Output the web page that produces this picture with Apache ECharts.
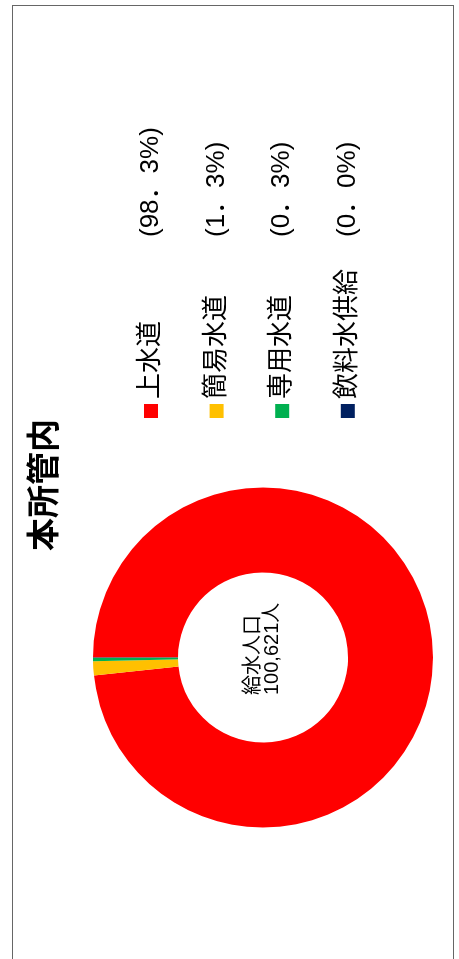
<!DOCTYPE html>
<html>
<head>
<meta charset="utf-8">
<script src="https://cdn.jsdelivr.net/npm/echarts@6/dist/echarts.min.js"></script>
<style>
html, body { margin: 0; padding: 0; overflow: hidden; background: #fff; width: 459px; height: 959px; }
#wrap {
  position: absolute; left: 12px; top: 965px;
  width: 960px; height: 442px; box-sizing: border-box;
  border: 1px solid #666;
  transform-origin: 0 0; transform: rotate(-90deg);
  background: #fff;
}
#chart { width: 958px; height: 440px; }
</style>
</head>
<body>
<div id="wrap"><div id="chart"></div></div>
<script>
const titleText = '本所管内';
const centerCaption = '給水人口';
const categories = ['上水道', '簡易水道', '専用水道', '飲料水供給'];
const values = [98923, 1345, 320, 33];
const colors = ['#FF0000', '#FFC000', '#00B050', '#002060'];

const total = values.reduce((a, b) => a + b, 0);
const pct = {};
categories.forEach((c, i) => {
  pct[c] = '(' + (values[i] / total * 100).toFixed(1).replace('.', '．') + '%)';
});

const cjk = '"Liberation Sans", "Noto Sans CJK JP", sans-serif';
const chart = echarts.init(document.getElementById('chart'), null, { renderer: 'canvas' });
chart.setOption({
  animation: false,
  color: colors,
  title: [
    {
      text: titleText, left: 'center', top: 15, padding: 0,
      textStyle: { fontFamily: cjk, fontSize: 33, fontWeight: 'bold', color: '#000', lineHeight: 35 }
    },
    {
      text: centerCaption + '\n' + total.toLocaleString('en-US') + '人',
      left: 269, top: 231, padding: 0,
      textStyle: { fontFamily: cjk, fontSize: 20, fontWeight: 'normal', color: '#000', lineHeight: 19 }
    }
  ],
  legend: {
    orient: 'vertical', left: 546, top: 125, padding: 0,
    itemWidth: 14, itemHeight: 14, itemGap: 39.6, icon: 'rect',
    data: categories,
    formatter: name => '{n|' + name + '}{p|' + pct[name] + '}',
    textStyle: {
      fontFamily: cjk, fontSize: 26, color: '#000', lineHeight: 26,
      rich: {
        n: { width: 162, fontFamily: cjk, fontSize: 26, lineHeight: 26 },
        p: { fontFamily: cjk, fontSize: 26, lineHeight: 26 }
      }
    }
  },
  series: [{
    type: 'pie',
    center: [306.5, 250],
    radius: [85, 170],
    startAngle: 90,
    clockwise: true,
    avoidLabelOverlap: false,
    label: { show: false },
    labelLine: { show: false },
    emphasis: { disabled: true },
    itemStyle: { borderWidth: 0 },
    data: categories.map((c, i) => ({ name: c, value: values[i] }))
  }]
});
</script>
</body>
</html>
